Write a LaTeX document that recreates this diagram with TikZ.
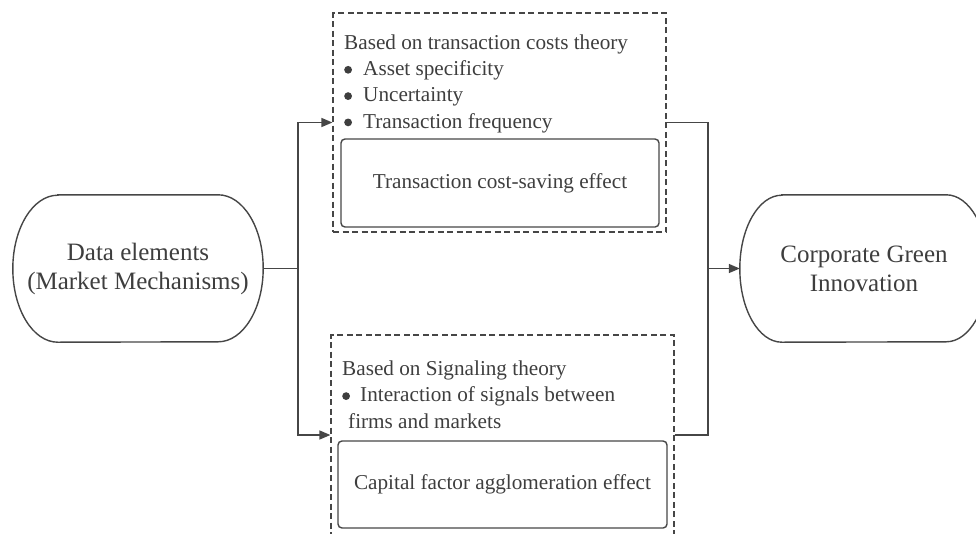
\documentclass[tikz,border=0pt]{standalone}
\usepackage{fontspec}
\setmainfont{Liberation Serif}
\usetikzlibrary{arrows.meta}
\definecolor{linec}{RGB}{70,70,70}
\definecolor{txtc}{RGB}{62,62,62}
\newcommand{\blt}[1]{\makebox[#1][l]{\tikz[baseline=0pt]\fill[txtc] (3.9pt,5.6pt) circle[radius=3.9pt];}}
\begin{document}
\begin{tikzpicture}[x=1pt,y=-1pt,
  conn/.style={draw=linec, line width=1.4pt},
  arr/.style={conn,-{Triangle[length=11pt,width=9pt]}},
  dashbox/.style={draw=linec, line width=1.2pt, dash pattern=on 6pt off 3.5pt, inner sep=0pt},
  effbox/.style={draw=linec, line width=1.4pt, rounded corners=4pt, inner sep=0pt, text=txtc,
     font=\fontsize{21.2}{26.3}\selectfont},
  bodytext/.style={anchor=base west, align=left, inner sep=0pt, text=txtc,
     font=\fontsize{21.2}{26.3}\selectfont},
  termtext/.style={inner sep=0pt, align=center, text=txtc,
     font=\fontsize{25}{29}\selectfont},
  stadium/.style={draw=linec, line width=1.4pt}
]
\useasboundingbox (0,0) rectangle (976,533);
\clip (0,0) rectangle (976,533);

% terminal nodes
\node[termtext, minimum width=250pt, minimum height=147pt] (L) at (138,268.5)
  {Data elements\\(Market Mechanisms)};
\draw[stadium] ([xshift=45pt]L.north west) -- ([xshift=-45pt]L.north east)
  arc[start angle=-90, end angle=90, x radius=45, y radius=73.5]
  -- ([xshift=45pt]L.south west)
  arc[start angle=90, end angle=270, x radius=45, y radius=73.5] -- cycle;

\node[termtext, minimum width=248pt, minimum height=147pt] (R) at (864,268.5)
  {Corporate Green\\Innovation};
\draw[stadium] ([xshift=42pt]R.north west) -- ([xshift=-42pt]R.north east)
  arc[start angle=-90, end angle=90, x radius=42, y radius=73.5]
  -- ([xshift=42pt]R.south west)
  arc[start angle=90, end angle=270, x radius=42, y radius=73.5] -- cycle;

% top dashed group
\node[dashbox, minimum width=333pt, minimum height=219pt] (T) at (499.5,122.5) {};
\node[bodytext] (Ttext) at (344,128)
  {Based on transaction costs theory\\
   \blt{19pt}Asset specificity\\
   \blt{19pt}Uncertainty\\
   \blt{19pt}Transaction frequency};
\node[effbox, minimum width=318pt, minimum height=88pt] (TS) at (500,183)
  {Transaction cost-saving effect};

% bottom dashed group
\node[dashbox, minimum width=343pt, minimum height=200pt] (B) at (502.5,435) {};
\node[bodytext] (Btext) at (342,428)
  {Based on Signaling theory\\
   \blt{18pt}Interaction of signals between\\
   \hspace*{6pt}firms and markets};
\node[effbox, minimum width=329pt, minimum height=87pt] (BS) at (502.5,484.5)
  {Capital factor agglomeration effect};

% connectors
\coordinate (jl) at (298,268.5);
\coordinate (jr) at (708,268.5);
\draw[conn] (L.east) -- (jl);
\draw[arr] (jl) |- (T.west);
\draw[arr] (jl) |- (B.west);
\draw[conn] (T.east) -| (jr);
\draw[conn] (B.east) -| (jr);
\draw[arr] (jr) -- (R.west);
\end{tikzpicture}
\end{document}
